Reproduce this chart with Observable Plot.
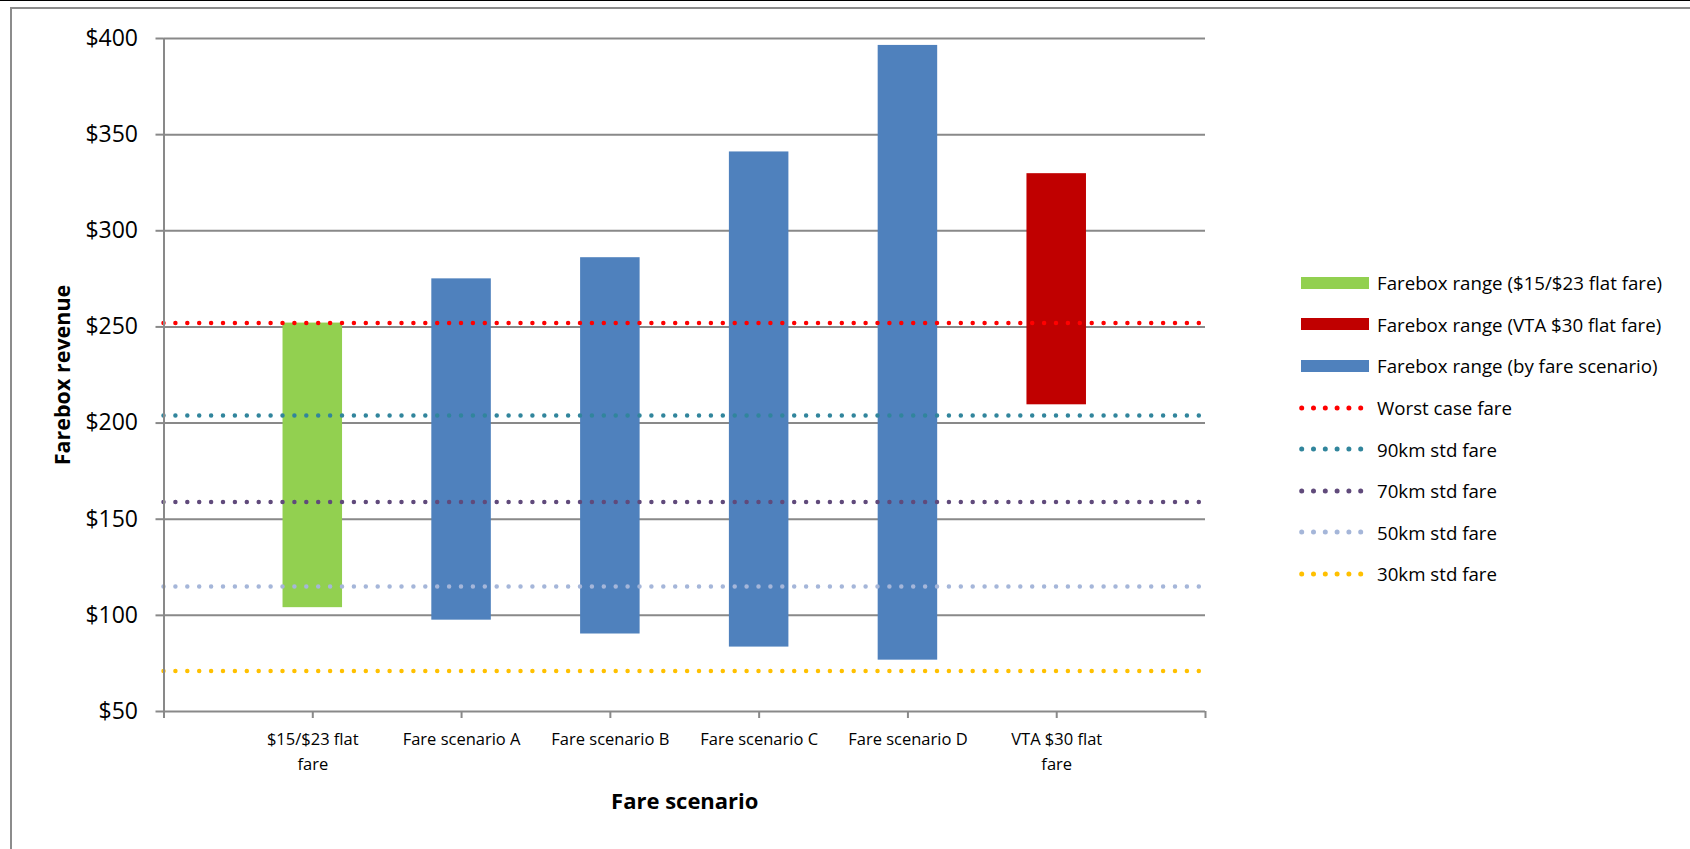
<!DOCTYPE html>
<html>
<head>
<meta charset="utf-8">
<script src="https://cdn.jsdelivr.net/npm/d3@7"></script>
<script src="https://cdn.jsdelivr.net/npm/@observablehq/plot@0.6"></script>
<style>
  html, body { margin: 0; padding: 0; background: #fff; }
  body { width: 1690px; height: 849px; position: relative; overflow: hidden; font-family: "Open Sans", sans-serif; }
  #chart { position: absolute; left: 0; top: 0; }
  .edge { position: absolute; z-index: 2; }
  #legend { position: absolute; left: 1299px; top: 262px; z-index: 3; }
  .row { position: relative; height: 41.6px; display: flex; align-items: center; }
  .row svg { width: 70px; height: 14px; flex: none; }
  .row span { margin-left: 8px; font-size: 18.7px; color: #000; white-space: nowrap; }
</style>
</head>
<body>
<div class="edge" style="left:0;top:0;width:1690px;height:1px;background:#000"></div>
<div class="edge" style="left:11px;top:7px;width:1679px;height:2px;background:#8c8c8c"></div>
<div class="edge" style="left:10px;top:7px;width:2px;height:842px;background:#8c8c8c"></div>
<div id="chart"></div>
<div id="legend"></div>
<script>
// Fare scenarios along the x axis (positions 1..6 on the category axis)
const categories = ["$15/$23 flat fare", "Fare scenario A", "Fare scenario B", "Fare scenario C", "Fare scenario D", "VTA $30 flat fare"];
const tickLabels = ["$15/$23 flat\nfare", "Fare scenario A", "Fare scenario B", "Fare scenario C", "Fare scenario D", "VTA $30 flat\nfare"];

// Farebox revenue range per scenario (low / high)
const lows  = [104, 97.5, 90.3, 83.5, 76.7, 209.5];
const highs = [252, 275, 286, 341, 396.4, 329.7];
const rangeSeries = [
  "Farebox range ($15/$23 flat fare)",
  "Farebox range (by fare scenario)",
  "Farebox range (by fare scenario)",
  "Farebox range (by fare scenario)",
  "Farebox range (by fare scenario)",
  "Farebox range (VTA $30 flat fare)"
];

// Reference fare levels drawn as dotted lines
const refNames  = ["Worst case fare", "90km std fare", "70km std fare", "50km std fare", "30km std fare"];
const refValues = [252, 204, 159, 115, 71];

// Axis ticks
const yTicks = [50, 100, 150, 200, 250, 300, 350, 400];

// Legend order and colours
const rangeNames  = ["Farebox range ($15/$23 flat fare)", "Farebox range (VTA $30 flat fare)", "Farebox range (by fare scenario)"];
const rangeColors = ["#92D050", "#C00000", "#4F81BD"];
const refColors   = ["#FF0000", "#31859C", "#604A7B", "#A5B6D9", "#FFC000"];

const gray = "#898989";
const barHalfWidth = 0.2;

const bars = categories.map((c, i) => ({
  category: c, pos: i + 1, low: lows[i], high: highs[i], series: rangeSeries[i]
}));
const refs = refNames.map((n, i) => ({name: n, value: refValues[i]}));

const chart = Plot.plot({
  width: 1690,
  height: 849,
  marginLeft: 163.5,
  marginRight: 485,
  marginTop: 38,
  marginBottom: 138,
  style: {fontFamily: "Open Sans", fontSize: "16.5px", color: "#000", background: "transparent"},
  x: {type: "linear", domain: [0, 7]},
  y: {domain: [50, 400]},
  color: {domain: [...rangeNames, ...refNames], range: [...rangeColors, ...refColors]},
  marks: [
    Plot.gridY({ticks: yTicks.slice(1), stroke: gray, strokeOpacity: 1, strokeWidth: 2}),
    Plot.axisY({
      ticks: yTicks, tickFormat: d => "$" + d, tickSize: 8, tickPadding: 18,
      fontSize: 23, stroke: gray, strokeWidth: 2, label: null
    }),
    Plot.axisX({
      ticks: d3.range(0, 8), tickFormat: i => tickLabels[i - 1] ?? "",
      tickSize: 7, tickPadding: 8, lineHeight: 1.55, fontSize: 16.5,
      stroke: gray, strokeWidth: 2, label: null
    }),
    Plot.rectY(bars, {
      x1: d => d.pos - barHalfWidth, x2: d => d.pos + barHalfWidth,
      y1: "low", y2: "high", fill: d => d.series
    }),
    Plot.ruleY(refs, {
      y: "value", stroke: d => d.name, strokeWidth: 4.5,
      strokeDasharray: "0 11.9", strokeLinecap: "round"
    }),
    Plot.ruleY([50], {stroke: gray, strokeWidth: 2}),
    Plot.ruleX([0], {stroke: gray, strokeWidth: 2}),
    Plot.text(["Farebox revenue"], {
      text: d => d, frameAnchor: "left", dx: -101, rotate: -90, textAnchor: "middle",
      fontSize: 21.5, fontWeight: "bold", fill: "#000"
    }),
    Plot.text(["Fare scenario"], {
      text: d => d, frameAnchor: "bottom", dy: 97,
      fontSize: 22, fontWeight: "bold", fill: "#000"
    })
  ]
});
document.getElementById("chart").append(chart);

// Legend: solid swatches for the ranges, dotted swatches for the fare levels
const legend = document.getElementById("legend");
const svgNS = "http://www.w3.org/2000/svg";
function addRow(label, color, dotted) {
  const row = document.createElement("div");
  row.className = "row";
  const svg = document.createElementNS(svgNS, "svg");
  if (dotted) {
    const line = document.createElementNS(svgNS, "line");
    line.setAttribute("x1", 2.7); line.setAttribute("x2", 64);
    line.setAttribute("y1", 7); line.setAttribute("y2", 7);
    line.setAttribute("stroke", color);
    line.setAttribute("stroke-width", 5);
    line.setAttribute("stroke-linecap", "round");
    line.setAttribute("stroke-dasharray", "0 11.8");
    svg.append(line);
  } else {
    const rect = document.createElementNS(svgNS, "rect");
    rect.setAttribute("x", 2); rect.setAttribute("y", 1);
    rect.setAttribute("width", 68); rect.setAttribute("height", 12);
    rect.setAttribute("fill", color);
    svg.append(rect);
  }
  const span = document.createElement("span");
  span.textContent = label;
  row.append(svg, span);
  legend.append(row);
}
rangeNames.forEach((n, i) => addRow(n, rangeColors[i], false));
refNames.forEach((n, i) => addRow(n, refColors[i], true));
</script>
</body>
</html>
